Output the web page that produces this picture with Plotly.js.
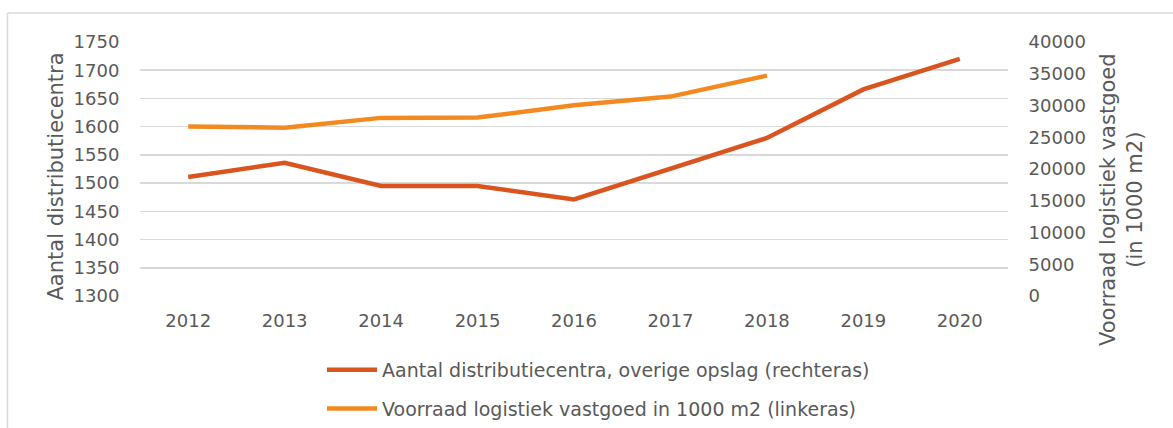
<!DOCTYPE html>
<html>
<head>
<meta charset="utf-8">
<script src="https://cdn.plot.ly/plotly-3.0.1.min.js"></script>
<style>
html,body{margin:0;padding:0;background:#fff;}
#chart{width:1173px;height:428px;}
</style>
</head>
<body>
<div id="chart"></div>
<script>
var years = ['2012','2013','2014','2015','2016','2017','2018','2019','2020'];
var aantalDC = [1511, 1536, 1495, 1495, 1471, 1526, 1580, 1666, 1720];
var voorraadYears = ['2012','2013','2014','2015','2016','2017','2018'];
var voorraad = [26700, 26500, 28050, 28100, 30050, 31400, 34700];
var leftTicks = [1300,1350,1400,1450,1500,1550,1600,1650,1700,1750];
var rightTicks = [0,5000,10000,15000,20000,25000,30000,35000,40000];
var leftTitle = 'Aantal distributiecentra';
var rightTitle = 'Voorraad logistiek vastgoed<br>(in 1000 m2)';

var textColor = '#595959';
var gridColor = '#D9D9D9';
var font = 'DejaVu Sans, Verdana, sans-serif';

var traces = [
  {
    x: years, y: aantalDC, type: 'scatter', mode: 'lines', yaxis: 'y',
    name: 'Aantal distributiecentra, overige opslag (rechteras)',
    line: {color: '#D9541E', width: 4.5},
    legendgroup: 'a', cliponaxis: false
  },
  {
    x: voorraadYears, y: voorraad, type: 'scatter', mode: 'lines', yaxis: 'y2',
    name: 'Voorraad logistiek vastgoed in 1000 m2 (linkeras)',
    line: {color: '#F28A1F', width: 4.5},
    legendgroup: 'b', cliponaxis: false
  }
];

var L = 140, R = 165, T = 42, B = 132;
var W = 1173 - L - R, H = 428 - T - B;
function px(x){ return (x - L) / W; }
function py(y){ return (428 - B - y) / H; }

var layout = {
  width: 1173, height: 428,
  margin: {l: L, r: R, t: T, b: B, pad: 0, autoexpand: false},
  paper_bgcolor: '#fff', plot_bgcolor: '#fff',
  font: {family: font, color: textColor, size: 18},
  showlegend: true,
  xaxis: {
    type: 'category', range: [-0.5, 8.5],
    showgrid: false, zeroline: false, showline: false,
    ticks: 'outside', ticklen: 8, tickcolor: 'rgba(0,0,0,0)',
    tickfont: {size: 18, color: textColor}, fixedrange: true
  },
  yaxis: {
    range: [1300, 1750], tickvals: leftTicks,
    showgrid: true, gridcolor: gridColor, gridwidth: 1.5,
    zeroline: false, showline: false,
    ticks: 'outside', ticklen: 16, tickcolor: 'rgba(0,0,0,0)',
    tickfont: {size: 18, color: textColor},
    fixedrange: true
  },
  yaxis2: {
    overlaying: 'y', side: 'right',
    range: [0, 40000], tickvals: rightTicks, tickformat: 'd',
    showgrid: false, zeroline: false, showline: false,
    ticks: 'outside', ticklen: 16, tickcolor: 'rgba(0,0,0,0)',
    tickfont: {size: 18, color: textColor},
    fixedrange: true
  },
  legend: {
    orientation: 'v', x: px(322), xanchor: 'left', y: py(351), yanchor: 'top',
    font: {size: 19, color: textColor}, tracegroupgap: 11,
    itemwidth: 50, bgcolor: 'rgba(0,0,0,0)'
  },
  annotations: [
    {text: leftTitle, xref: 'paper', yref: 'paper', x: px(55), y: py(176.5),
     xanchor: 'center', yanchor: 'middle', textangle: -90, showarrow: false,
     font: {size: 21, color: textColor}},
    {text: rightTitle, xref: 'paper', yref: 'paper', x: px(1121), y: py(200),
     xanchor: 'center', yanchor: 'middle', textangle: -90, showarrow: false,
     font: {size: 21, color: textColor}}
  ],
  shapes: [
    {type: 'line', xref: 'paper', yref: 'paper', x0: px(7.5), x1: px(7.5), y0: py(13), y1: py(430),
     line: {color: gridColor, width: 1.5}},
    {type: 'line', xref: 'paper', yref: 'paper', x0: px(7.5), x1: px(1175), y0: py(13), y1: py(13),
     line: {color: gridColor, width: 1.5}}
  ]
};

Plotly.newPlot('chart', traces, layout, {displayModeBar: false, staticPlot: true});
</script>
</body>
</html>
